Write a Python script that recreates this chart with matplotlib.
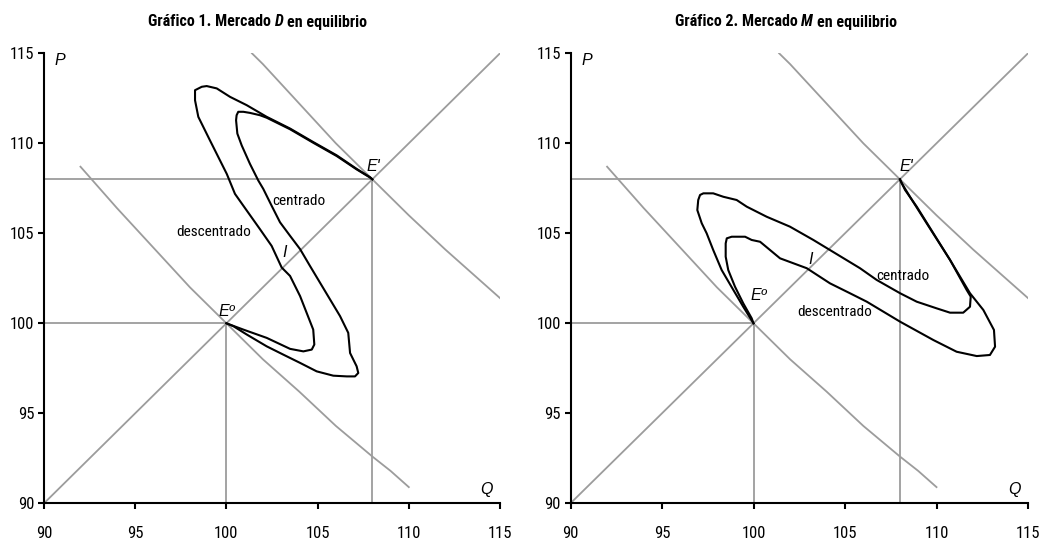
import matplotlib
matplotlib.use("Agg")
import matplotlib.pyplot as plt
from matplotlib import font_manager

# ---------------- data ----------------
axis_ticks = [90, 95, 100, 105, 110, 115]

supply_q = [90, 115]
supply_p = [90, 115]

demand0_q = [92, 94, 96, 98, 100, 102, 104, 106, 108, 109, 110]
demand0_p = [108.7, 106.4, 104.2, 102.0, 100.0, 98.0, 96.2, 94.3, 92.6, 91.8, 90.9]
demand1_q = [101.4, 102, 104, 106, 108, 110, 112, 114, 115]
demand1_p = [115.0, 114.4, 112.2, 110.0, 108.0, 106.0, 104.1, 102.3, 101.4]

eq0 = (100, 100)
eq1 = (108, 108)

pathD_a_q = [100.0, 100.93, 102.21, 103.49, 104.22, 104.68, 104.82, 104.76, 104.04, 103.49,
             103.03, 102.48, 101.84, 100.93, 100.47, 100.02, 99.10, 98.46, 98.28, 98.28,
             98.65, 98.92, 99.47, 100.20, 101.11, 102.21, 103.49, 104.76, 106.05, 107.14,
             107.87, 108.0]
pathD_a_p = [100.0, 99.65, 99.19, 98.58, 98.44, 98.54, 98.82, 99.65, 101.51, 102.63,
             103.10, 104.30, 105.23, 106.53, 107.19, 108.30, 110.16, 111.47, 112.39, 112.95,
             113.14, 113.18, 113.05, 112.58, 112.12, 111.47, 110.82, 110.07, 109.33, 108.58,
             108.12, 108.0]
pathD_b_q = [100.0, 100.38, 101.11, 102.21, 103.12, 104.04, 104.95, 105.86, 106.60, 107.05,
             107.23, 107.14, 106.78, 106.68, 106.23, 105.68, 105.13, 104.58, 104.04, 103.49,
             102.94, 102.48, 102.02, 101.75, 101.29, 100.84, 100.60, 100.53, 100.56, 100.65,
             100.93, 101.29, 101.84, 102.21, 103.49, 104.76, 106.05, 107.14, 107.87, 108.0]
pathD_b_p = [100.0, 99.84, 99.38, 98.72, 98.26, 97.80, 97.33, 97.09, 97.05, 97.05,
             97.24, 97.61, 98.35, 99.47, 100.40, 101.33, 102.26, 103.19, 104.12, 104.86,
             105.61, 106.53, 107.47, 107.93, 108.86, 109.88, 110.54, 111.28, 111.56, 111.75,
             111.75, 111.69, 111.56, 111.42, 110.78, 110.03, 109.29, 108.55, 108.10, 108.0]

pathM_a_q = [100.0, 99.44, 98.90, 98.26, 97.80, 97.44, 97.17, 96.93, 96.98, 97.08,
             97.26, 97.80, 98.35, 99.08, 99.63, 100.72, 101.99, 103.27, 104.18, 105.82,
             106.73, 108.01, 108.92, 110.01, 110.74, 111.46, 111.83, 111.87, 111.65, 110.74,
             109.83, 108.92, 108.28, 108.0]
pathM_a_p = [100.0, 100.92, 101.85, 102.96, 104.07, 105.0, 105.56, 106.29, 106.85, 107.13,
             107.22, 107.22, 107.03, 106.85, 106.48, 105.92, 105.37, 104.63, 104.07, 103.06,
             102.41, 101.67, 101.2, 100.83, 100.59, 100.59, 100.92, 101.48, 101.85, 103.52,
             105.0, 106.48, 107.41, 108.0]
pathM_b_q = [100.0, 99.90, 99.44, 98.99, 98.62, 98.48, 98.48, 98.54, 98.81, 99.54,
             99.90, 100.36, 101.45, 102.91, 104.18, 105.27, 106.19, 108.01, 109.83, 111.10,
             112.20, 112.92, 113.20, 113.14, 112.56, 111.83, 110.74, 109.46, 108.55, 108.10,
             108.0]
pathM_b_p = [100.0, 100.28, 101.11, 102.03, 102.96, 103.70, 104.44, 104.72, 104.81, 104.81,
             104.63, 104.53, 103.61, 103.06, 102.22, 101.67, 101.2, 100.09, 99.07, 98.42,
             98.18, 98.24, 98.70, 99.63, 100.74, 101.67, 103.52, 105.56, 107.03, 107.78,
             108.0]

title_parts = [("Gráfico 1. Mercado", "D", "en equilibrio"),
               ("Gráfico 2. Mercado", "M", "en equilibrio")]
title_x = [258, 786]

labels = [
    {"e0": (100.0, 100.25), "e1": (107.7, 108.3), "i": (103.2, 103.95),
     "cen": (104.0, 106.8), "des": (99.3, 105.1)},
    {"e0": (100.3, 101.1), "e1": (108.0, 108.3), "i": (103.1, 103.55),
     "cen": (108.15, 102.6), "des": (104.45, 100.6)},
]
paths = [((pathD_a_q, pathD_a_p), (pathD_b_q, pathD_b_p)),
         ((pathM_a_q, pathM_a_p), (pathM_b_q, pathM_b_p))]

# ---------------- fonts ----------------
available = {f.name for f in font_manager.fontManager.ttflist}
narrow_name = None
for cand in ["Liberation Sans Narrow", "Arial Narrow", "Roboto Condensed",
             "DejaVu Sans Condensed", "Open Sans Condensed", "Liberation Sans"]:
    if cand in available:
        narrow_name = cand
        break
if narrow_name is None:
    narrow_name = "DejaVu Sans"
is_narrow = narrow_name != "Liberation Sans" and narrow_name != "DejaVu Sans"
NARROW = [narrow_name, "DejaVu Sans"]
ITAL = ["Liberation Sans", "DejaVu Sans"] if "Liberation Sans" in available else ["DejaVu Sans"]
tick_fs = 12 if is_narrow else 9
lab_fs = 11 if is_narrow else 9
title_fs = 11.5 if is_narrow else 9.5

GRAY = "#9c9c9c"
W, H = 1045, 543
fig = plt.figure(figsize=(W / 100, H / 100), dpi=100)
fig.patch.set_facecolor("white")

ax_rects = [[44 / W, 1 - 503.3 / H, 456 / W, 450 / H],
            [570.5 / W, 1 - 503.3 / H, 457.5 / W, 450 / H]]

for k in range(2):
    ax = fig.add_axes(ax_rects[k])
    ax.set_xlim(90, 115)
    ax.set_ylim(90, 115)
    for s in ["top", "right"]:
        ax.spines[s].set_visible(False)
    for s in ["left", "bottom"]:
        ax.spines[s].set_linewidth(1.5)
        ax.spines[s].set_color("black")
    ax.set_xticks(axis_ticks)
    ax.set_yticks(axis_ticks)
    ax.tick_params(axis="both", direction="out", length=4, width=1.5, colors="black")
    ax.tick_params(axis="x", pad=12)
    ax.tick_params(axis="y", pad=3)
    for lab in ax.get_xticklabels() + ax.get_yticklabels():
        lab.set_fontfamily(NARROW)
        lab.set_fontsize(tick_fs)

    ax.plot(supply_q, supply_p, color=GRAY, lw=1.3, zorder=2)
    ax.plot(demand0_q, demand0_p, color=GRAY, lw=1.3, zorder=2)
    ax.plot(demand1_q, demand1_p, color=GRAY, lw=1.3, zorder=2)
    ax.plot([90, eq0[0]], [eq0[1], eq0[1]], color=GRAY, lw=1.3, zorder=2)
    ax.plot([eq0[0], eq0[0]], [90, eq0[1]], color=GRAY, lw=1.3, zorder=2)
    ax.plot([90, eq1[0]], [eq1[1], eq1[1]], color=GRAY, lw=1.3, zorder=2)
    ax.plot([eq1[0], eq1[0]], [90, eq1[1]], color=GRAY, lw=1.3, zorder=2)

    for (pq, pp) in paths[k]:
        ax.plot(pq, pp, color="black", lw=1.5, zorder=3, solid_joinstyle="round")

    L = labels[k]
    ax.text(L["e0"][0], L["e0"][1], "Eº", style="italic", fontsize=11.5,
            family=ITAL, ha="center", va="bottom")
    ax.text(L["e1"][0], L["e1"][1], "E'", style="italic", fontsize=11.5,
            family=ITAL, ha="left", va="bottom")
    ax.text(L["i"][0], L["i"][1], "I", style="italic", fontsize=11.5,
            family=ITAL, ha="center", va="center")
    ax.text(L["cen"][0], L["cen"][1], "centrado", fontsize=lab_fs, family=NARROW,
            ha="center", va="center")
    ax.text(L["des"][0], L["des"][1], "descentrado", fontsize=lab_fs, family=NARROW,
            ha="center", va="center")
    ax.text(90.6, 114.6, "P", style="italic", fontsize=11.5,
            family=ITAL, ha="left", va="center")
    ax.text(114.6, 90.35, "Q", style="italic", fontsize=11.5,
            family=ITAL, ha="right", va="bottom")

    # title: bold parts plus an italic-bold market letter
    pre, letter, post = title_parts[k]
    t = fig.text(title_x[k] / W, 1 - 22 / H, pre + " " + letter + " " + post,
                 fontsize=title_fs, fontweight="bold", family=NARROW,
                 ha="center", va="center", color="none")
    fig.canvas.draw()
    r = fig.canvas.get_renderer()
    bb = t.get_window_extent(r)
    x0 = bb.x0
    t1 = fig.text(x0 / W, 1 - 22 / H, pre + " ", fontsize=title_fs, fontweight="bold",
                  family=NARROW, ha="left", va="center")
    w1 = t1.get_window_extent(r).width
    t2 = fig.text((x0 + w1) / W, 1 - 22 / H, letter + " ", fontsize=title_fs,
                  fontweight="bold", style="italic", family=NARROW, ha="left", va="center")
    w2 = t2.get_window_extent(r).width
    fig.text((x0 + w1 + w2) / W, 1 - 22 / H, post, fontsize=title_fs, fontweight="bold",
             family=NARROW, ha="left", va="center")
    t.remove()

fig.savefig("out.png", dpi=100, facecolor="white")
